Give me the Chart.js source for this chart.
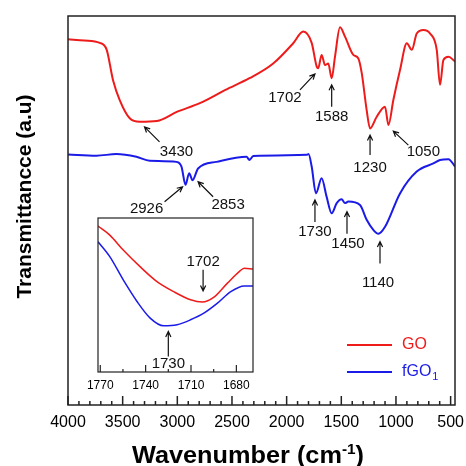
<!DOCTYPE html>
<html>
<head>
<meta charset="utf-8">
<script src="https://cdn.jsdelivr.net/npm/chart.js@4.4.1/dist/chart.umd.min.js"></script>
<style>
  html, body { margin: 0; padding: 0; background: #fff; }
  #wrap { position: relative; width: 466px; height: 466px; }
  #main { position: absolute; left: 0; top: 0; }
  #inset { position: absolute; left: 85px; top: 214px; }
</style>
</head>
<body>
<div id="wrap">
  <canvas id="main" width="466" height="466"></canvas>
  <canvas id="inset" width="175" height="182"></canvas>
</div>
<script>
const FONT = "'Liberation Sans', Arial, sans-serif";
Chart.defaults.font.family = FONT;
Chart.defaults.color = '#000';

// GO spectrum (wavenumber in cm-1, transmittance in a.u.)
const goWavenumber = [4000, 3850, 3710, 3646, 3588, 3527, 3435, 3343, 3187, 3000, 2794, 2560, 2340, 2123, 1940, 1848,
  1771, 1725, 1711, 1680, 1649, 1619, 1588, 1558, 1512, 1466, 1390, 1344, 1313, 1268, 1237, 1176, 1100, 1069, 1024,
  963, 901, 855, 810, 749, 688, 627, 597, 566, 520, 459];
const goTransmittance = [94.0, 93.7, 93.1, 91.3, 83.5, 78.4, 73.7, 72.8, 73.0, 75.4, 77.6, 81.0, 84.0, 87.8, 93.0, 96.0,
  93.1, 87.0, 86.6, 90.0, 87.4, 87.8, 84.0, 89.5, 97.1, 94.7, 90.0, 89.1, 85.3, 75.8, 71.1, 74.1, 76.7, 72.0, 78.4,
  86.1, 93.0, 91.3, 95.5, 96.4, 95.5, 91.3, 82.3, 88.7, 89.5, 88.3];

// fGO1 spectrum
const fgoWavenumber = [4000, 3740, 3557, 3374, 3252, 3007, 2962, 2925, 2892, 2861, 2810, 2641, 2367, 2340, 2306, 1817,
  1800, 1771, 1732, 1680, 1634, 1588, 1542, 1497, 1466, 1436, 1329, 1268, 1207, 1161, 1100, 963, 810, 658, 597, 520, 459];
const fgoTransmittance = [64.4, 64.1, 64.5, 63.8, 62.8, 62.5, 61.3, 56.6, 59.6, 57.8, 60.8, 62.5, 63.8, 63.0, 64.0, 64.3,
  64.5, 61.3, 54.4, 58.3, 53.5, 49.3, 51.9, 52.9, 51.9, 52.3, 51.4, 47.6, 45.0, 44.0, 45.8, 54.4, 60.0, 62.1, 63.0, 63.2, 61.3];

// inset: carbonyl region
const insetGoWavenumber = [1771.5, 1763.7, 1754.8, 1743.7, 1732.5, 1721.5, 1710.3, 1702.5, 1694.8, 1685.9, 1678.1, 1674.8, 1669];
const insetGoTransmittance = [94.8, 88.9, 79.2, 68.4, 58.7, 52.2, 46.9, 45.4, 48.6, 57.7, 65.2, 67.4, 66.8];
const insetFgoWavenumber = [1771.5, 1763.7, 1754.8, 1745.7, 1737.0, 1728.1, 1719.2, 1710.3, 1701.5, 1692.5, 1683.7, 1674.8, 1669];
const insetFgoTransmittance = [84.6, 74.9, 59.8, 45.8, 35.0, 30.0, 30.7, 33.9, 38.2, 44.7, 52.2, 55.9, 55.9];

// tick values (labelled ones are the multiples of the major step)
const mainTicks = [];
for (let v = 500; v <= 4000; v += 100) mainTicks.push(v);
const insetTicks = [1680, 1695, 1710, 1725, 1740, 1755, 1770];

// peak labels, arrow tip at (wavenumber, transmittance)
const peakLabels = ['3430', '1702', '1588', '1230', '1050', '2926', '2853', '1730', '1450', '1140'];
const peakTipX = [3300, 1741, 1588, 1237, 1024, 2952, 2810, 1741, 1448, 1146];
const peakTipY = [71.5, 85.1, 82.3, 69.4, 70.4, 56.1, 57.4, 52.7, 49.7, 42.0];
const insetPeakLabels = ['1702', '1730'];
const insetTipX = [1702, 1725];
const insetTipY = [52.7, 26.3];

const RED = '#ee1b1b';
const BLUE = '#1b1be8';

// arrow tail dx,dy and text dx,dy in px from the tip, same order as the labels
const peakOffsets = [[15, 15, 32, 25], [-15, 16, -30, 24], [0, 22, 0, 32], [0, 20, 0, 33], [15, 14, 30, 21],
  [-18, 15, -36, 22], [15, 15, 30, 23], [0, 22, 0, 32], [0, 22, 1, 32], [0, 22, -2, 41]];
const insetOffsets = [[0, -21, 0, -29], [0, 25, 0, 32]];

function toPoints(xs, ys) {
  return xs.map((x, i) => ({ x: x, y: ys[i] }));
}

function drawArrow(ctx, x0, y0, x1, y1) {
  const a = Math.atan2(y1 - y0, x1 - x0);
  const h = 6;
  ctx.beginPath();
  ctx.moveTo(x0, y0);
  ctx.lineTo(x1, y1);
  ctx.moveTo(x1 - h * Math.cos(a - 0.45), y1 - h * Math.sin(a - 0.45));
  ctx.lineTo(x1, y1);
  ctx.lineTo(x1 - h * Math.cos(a + 0.45), y1 - h * Math.sin(a + 0.45));
  ctx.stroke();
}

// box around the plot + inward ticks on the bottom axis
const frameTicks = (major, majorLen, minorLen, lw) => ({
  id: 'frameTicks',
  afterDraw(chart) {
    const { ctx, chartArea: a, scales: { x } } = chart;
    ctx.save();
    ctx.strokeStyle = '#222';
    ctx.lineWidth = lw;
    ctx.strokeRect(a.left, a.top, a.right - a.left, a.bottom - a.top);
    ctx.beginPath();
    x.ticks.forEach(t => {
      const px = x.getPixelForValue(t.value);
      const len = t.value % major === 0 ? majorLen : minorLen;
      ctx.moveTo(px, a.bottom);
      ctx.lineTo(px, a.bottom - len);
    });
    ctx.stroke();
    ctx.restore();
  }
});

const peakArrows = (labels, xs, ys, offsets) => ({
  id: 'peakArrows',
  afterDatasetsDraw(chart) {
    const { ctx, scales: { x, y } } = chart;
    ctx.save();
    ctx.strokeStyle = '#111';
    ctx.fillStyle = '#111';
    ctx.lineWidth = 1.2;
    ctx.font = '15px ' + FONT;
    ctx.textAlign = 'center';
    ctx.textBaseline = 'middle';
    labels.forEach((lab, i) => {
      const tx = x.getPixelForValue(xs[i]);
      const ty = y.getPixelForValue(ys[i]);
      const [dx, dy, lx, ly] = offsets[i];
      drawArrow(ctx, tx + dx, ty + dy, tx, ty);
      ctx.fillText(lab, tx + lx, ty + ly);
    });
    ctx.restore();
  }
});

// axis titles and legend (need super/subscripts)
const mainText = {
  id: 'mainText',
  afterDraw(chart) {
    const { ctx, chartArea: a } = chart;
    const sets = chart.data.datasets;
    ctx.save();
    ctx.fillStyle = '#000';
    ctx.textAlign = 'center';
    ctx.textBaseline = 'middle';
    ctx.font = 'bold 21px ' + FONT;
    ctx.translate(a.left - 43, (a.top + a.bottom) / 2 - 14);
    ctx.rotate(-Math.PI / 2);
    ctx.fillText('Transmittancce (a.u)', 0, 0);
    ctx.restore();

    ctx.save();
    ctx.fillStyle = '#000';
    ctx.textAlign = 'left';
    ctx.textBaseline = 'alphabetic';
    const big = 'bold 23px ' + FONT, small = 'bold 14px ' + FONT;
    ctx.font = big;
    const w1 = ctx.measureText('Wavenumber (cm').width;
    const w3 = ctx.measureText(')').width;
    ctx.font = small;
    const w2 = ctx.measureText('-1').width;
    const sx = 1.1;
    const total = (w1 + w2 + w3) * sx;
    ctx.translate(248 - total / 2, 463);
    ctx.scale(sx, 1);
    ctx.font = big;
    ctx.fillText('Wavenumber (cm', 0, 0);
    ctx.font = small;
    ctx.fillText('-1', w1, -9);
    ctx.font = big;
    ctx.fillText(')', w1 + w2, 0);
    ctx.restore();

    // legend
    ctx.save();
    ctx.lineWidth = 1.8;
    ctx.textAlign = 'left';
    ctx.textBaseline = 'middle';
    const rows = [a.bottom - 60, a.bottom - 33];
    rows.forEach((ry, i) => {
      ctx.strokeStyle = sets[i].borderColor;
      ctx.fillStyle = sets[i].borderColor;
      ctx.beginPath();
      ctx.moveTo(a.right - 108, ry);
      ctx.lineTo(a.right - 63, ry);
      ctx.stroke();
      ctx.font = '16px ' + FONT;
      if (i === 0) {
        ctx.fillText('GO', a.right - 53, ry);
      } else {
        ctx.fillText('fGO', a.right - 53, ry);
        const w = ctx.measureText('fGO').width;
        ctx.font = '11px ' + FONT;
        ctx.fillText('1', a.right - 53 + w + 1, ry + 5);
      }
    });
    ctx.restore();
  }
};

new Chart(document.getElementById('main'), {
  type: 'line',
  data: {
    datasets: [
      { label: 'GO', data: toPoints(goWavenumber, goTransmittance), borderColor: RED, borderWidth: 2,
        pointRadius: 0, cubicInterpolationMode: 'monotone' },
      { label: 'fGO1', data: toPoints(fgoWavenumber, fgoTransmittance), borderColor: BLUE, borderWidth: 2,
        pointRadius: 0, cubicInterpolationMode: 'monotone' }
    ]
  },
  options: {
    responsive: false,
    animation: false,
    devicePixelRatio: 1,
    layout: { padding: { left: 68, right: 11, top: 16, bottom: 0 } },
    plugins: { legend: { display: false }, tooltip: { enabled: false } },
    scales: {
      x: {
        type: 'linear', reverse: true, min: 460, max: 4000,
        grid: { display: false, drawTicks: false },
        border: { display: false },
        afterBuildTicks: s => { s.ticks = mainTicks.map(v => ({ value: v })); },
        ticks: {
          autoSkip: false, maxRotation: 0, padding: 8,
          font: { size: 16 }, color: '#000',
          callback: v => (v % 500 === 0 ? String(v) : '')
        },
        afterFit: s => { s.height = 61; }
      },
      y: { display: false, min: 0, max: 100 }
    }
  },
  plugins: [frameTicks(500, 9, 4, 1.5), peakArrows(peakLabels, peakTipX, peakTipY, peakOffsets), mainText]
});

new Chart(document.getElementById('inset'), {
  type: 'line',
  data: {
    datasets: [
      { label: 'GO', data: toPoints(insetGoWavenumber, insetGoTransmittance), borderColor: RED, borderWidth: 1.5,
        pointRadius: 0, cubicInterpolationMode: 'monotone' },
      { label: 'fGO1', data: toPoints(insetFgoWavenumber, insetFgoTransmittance), borderColor: BLUE, borderWidth: 1.5,
        pointRadius: 0, cubicInterpolationMode: 'monotone' }
    ]
  },
  options: {
    responsive: false,
    animation: false,
    devicePixelRatio: 1,
    layout: { padding: { left: 13, right: 7, top: 4, bottom: 0 } },
    plugins: { legend: { display: false }, tooltip: { enabled: false } },
    scales: {
      x: {
        type: 'linear', reverse: true, min: 1669, max: 1771.5,
        grid: { display: false, drawTicks: false },
        border: { display: false },
        afterBuildTicks: s => { s.ticks = insetTicks.map(v => ({ value: v })); },
        ticks: {
          autoSkip: false, maxRotation: 0, padding: 6,
          font: { size: 12 }, color: '#000',
          callback: v => (v % 30 === 0 ? String(v) : '')
        },
        afterFit: s => { s.height = 24; }
      },
      y: { display: false, min: 0, max: 100 }
    }
  },
  plugins: [frameTicks(30, 7, 3, 1.2), peakArrows(insetPeakLabels, insetTipX, insetTipY, insetOffsets)]
});
</script>
</body>
</html>
